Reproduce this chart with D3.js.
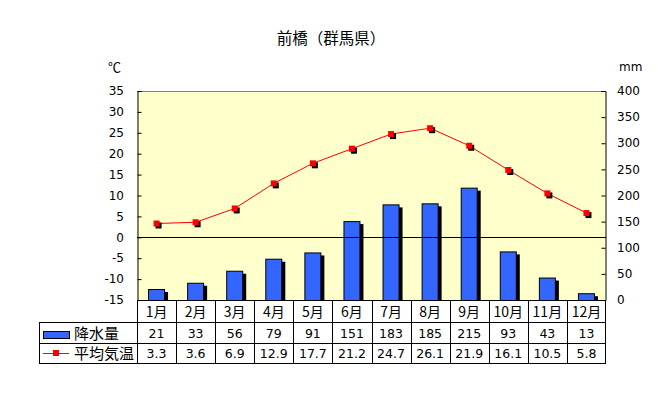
<!DOCTYPE html>
<html>
<head>
<meta charset="utf-8">
<script src="https://cdn.jsdelivr.net/npm/d3@7"></script>
<style>
  body { margin: 0; background: #fff; }
  text { font-family: "Noto Sans CJK JP", sans-serif; fill: #000; }
  text.num { font-family: "DejaVu Sans", "Noto Sans CJK JP", sans-serif; }
</style>
</head>
<body>
<div id="chart"></div>
<script>
const months = ['1月', '2月', '3月', '4月', '5月', '6月', '7月', '8月', '9月', '10月', '11月', '12月'];
const rain = [21, 33, 56, 79, 91, 151, 183, 185, 215, 93, 43, 13];
const temp = [3.3, 3.6, 6.9, 12.9, 17.7, 21.2, 24.7, 26.1, 21.9, 16.1, 10.5, 5.8];
const tempTicks = [-15, -10, -5, 0, 5, 10, 15, 20, 25, 30, 35];
const rainTicks = [0, 50, 100, 150, 200, 250, 300, 350, 400];

const W = 658, H = 399;
const pLeft = 137, pRight = 606, pTop = 91, pBottom = 300;
const rowH = 21;
const legendLeft = 39;

const svg = d3.select('#chart').append('svg').attr('width', W).attr('height', H);

const x = d3.scaleBand().domain(months).range([pLeft, pRight]);
const yT = d3.scaleLinear().domain([-15, 35]).range([pBottom, pTop]);
const yR = d3.scaleLinear().domain([0, 400]).range([pBottom, pTop]);

// plot background
svg.append('rect')
  .attr('x', pLeft).attr('y', pTop)
  .attr('width', pRight - pLeft).attr('height', pBottom - pTop)
  .attr('fill', '#ffffcc');

// top border
svg.append('line')
  .attr('x1', pLeft).attr('x2', pRight).attr('y1', pTop + 0.5).attr('y2', pTop + 0.5)
  .attr('stroke', '#808080');

// bars with shadow
svg.append('clipPath').attr('id', 'plotclip')
  .append('rect').attr('x', pLeft).attr('y', pTop).attr('width', pRight - pLeft).attr('height', pBottom - pTop);

const bw = 17;
const bars = svg.append('g').attr('clip-path', 'url(#plotclip)');
bars.selectAll('rect.sh').data(rain).enter().append('rect')
  .attr('class', 'sh')
  .attr('x', (d, i) => x(months[i]) + x.bandwidth() / 2 - bw / 2 + 3)
  .attr('y', d => yR(d) + 3)
  .attr('width', bw)
  .attr('height', d => pBottom - yR(d))
  .attr('fill', '#000');
bars.selectAll('rect.bar').data(rain).enter().append('rect')
  .attr('class', 'bar')
  .attr('x', (d, i) => x(months[i]) + x.bandwidth() / 2 - bw / 2 + 0.5)
  .attr('y', d => yR(d) + 0.5)
  .attr('width', bw - 1)
  .attr('height', d => pBottom - yR(d))
  .attr('fill', '#3366ff')
  .attr('stroke', '#000');

// zero line
svg.append('line')
  .attr('x1', pLeft).attr('x2', pRight)
  .attr('y1', Math.round(yT(0)) + 0.5).attr('y2', Math.round(yT(0)) + 0.5)
  .attr('stroke', '#000');

// axes
const axL = svg.append('g').attr('transform', `translate(${pLeft + 0.5},0)`)
  .call(d3.axisRight(yT).tickValues(tempTicks).tickSize(4).tickFormat(''));
const axR = svg.append('g').attr('transform', `translate(${pRight - 0.5},0)`)
  .call(d3.axisLeft(yR).tickValues(rainTicks).tickSize(4).tickFormat(''));
[axL, axR].forEach(a => {
  a.select('.domain').attr('stroke', '#000');
  a.selectAll('.tick line').attr('stroke', '#000');
});

svg.append('g').selectAll('text').data(tempTicks).enter().append('text')
  .attr('class', 'num')
  .attr('x', 124).attr('y', d => yT(d))
  .attr('dy', '0.35em')
  .attr('text-anchor', 'end')
  .attr('font-size', 12)
  .text(d => d);

svg.append('g').selectAll('text').data(rainTicks).enter().append('text')
  .attr('class', 'num')
  .attr('x', 617).attr('y', d => yR(d))
  .attr('dy', '0.35em')
  .attr('font-size', 12)
  .text(d => d);

// temperature line
const line = d3.line().x((d, i) => x(months[i]) + x.bandwidth() / 2).y(d => yT(d));
svg.append('path').datum(temp)
  .attr('d', line)
  .attr('fill', 'none')
  .attr('stroke', '#ff0000')
  .attr('stroke-width', 1);
svg.selectAll('rect.msh').data(temp).enter().append('rect')
  .attr('class', 'msh')
  .attr('x', (d, i) => x(months[i]) + x.bandwidth() / 2 - 1)
  .attr('y', d => yT(d) - 1)
  .attr('width', 6).attr('height', 6)
  .attr('fill', '#000');
svg.selectAll('rect.mk').data(temp).enter().append('rect')
  .attr('class', 'mk')
  .attr('x', (d, i) => x(months[i]) + x.bandwidth() / 2 - 3)
  .attr('y', d => yT(d) - 3)
  .attr('width', 6).attr('height', 6)
  .attr('fill', '#ff0000');

// title and units
svg.append('text').attr('x', 331).attr('y', 44).attr('text-anchor', 'middle')
  .attr('font-size', 15.5).text('前橋（群馬県）');
svg.append('text').attr('x', 108).attr('y', 72).attr('font-size', 13).text('℃');
svg.append('text').attr('class', 'num').attr('x', 619).attr('y', 71).attr('font-size', 12).text('mm');

// data table
const tbl = svg.append('g');
const r1 = pBottom, r2 = pBottom + rowH + 1, r3 = r2 + rowH, r4 = r3 + rowH - 1;
const hl = (x1, x2, y) => tbl.append('line').attr('x1', x1).attr('x2', x2)
  .attr('y1', y + 0.5).attr('y2', y + 0.5).attr('stroke', '#000');
hl(pLeft, pRight, r1);
hl(legendLeft, pRight, r2);
hl(legendLeft, pRight, r3);
hl(legendLeft, pRight, r4);
tbl.append('line').attr('x1', legendLeft + 0.5).attr('x2', legendLeft + 0.5)
  .attr('y1', r2).attr('y2', r4 + 1).attr('stroke', '#000');
const vx = (d, i) => i < 12 ? Math.round(x(d)) + 0.5 : pRight - 0.5;
tbl.selectAll('line.v').data(months.concat(['end'])).enter().append('line')
  .attr('class', 'v')
  .attr('x1', vx).attr('x2', vx)
  .attr('y1', r1).attr('y2', r4 + 1)
  .attr('stroke', '#000');

const cx = m => x(m) + x.bandwidth() / 2;
tbl.selectAll('text.m').data(months).enter().append('text')
  .attr('class', 'm')
  .attr('x', d => cx(d)).attr('y', (r1 + r2) / 2 + 1).attr('dy', '0.35em')
  .attr('text-anchor', 'middle').attr('font-size', 14).text(d => d);
tbl.selectAll('text.r').data(rain).enter().append('text')
  .attr('class', 'r num')
  .attr('x', (d, i) => cx(months[i])).attr('y', (r2 + r3) / 2 + 1).attr('dy', '0.35em')
  .attr('text-anchor', 'middle').attr('font-size', 12.5).text(d => d);
tbl.selectAll('text.t').data(temp).enter().append('text')
  .attr('class', 't num')
  .attr('x', (d, i) => cx(months[i])).attr('y', (r3 + r4) / 2 + 1).attr('dy', '0.35em')
  .attr('text-anchor', 'middle').attr('font-size', 12.5).text(d => d.toFixed(1));

// legend cells
tbl.append('rect').attr('x', 43.5).attr('y', 331.5).attr('width', 26).attr('height', 7)
  .attr('fill', '#3366ff').attr('stroke', '#000');
tbl.append('text').attr('x', 74).attr('y', (r2 + r3) / 2 + 1).attr('dy', '0.35em')
  .attr('font-size', 15).text('降水量');
tbl.append('line').attr('x1', 43).attr('x2', 69).attr('y1', (r3 + r4) / 2 + 0.5).attr('y2', (r3 + r4) / 2 + 0.5)
  .attr('stroke', '#ff0000');
tbl.append('rect').attr('x', 53).attr('y', (r3 + r4) / 2 - 3).attr('width', 6).attr('height', 6)
  .attr('fill', '#ff0000');
tbl.append('text').attr('x', 74).attr('y', (r3 + r4) / 2 + 1).attr('dy', '0.35em')
  .attr('font-size', 15).text('平均気温');
</script>
</body>
</html>
